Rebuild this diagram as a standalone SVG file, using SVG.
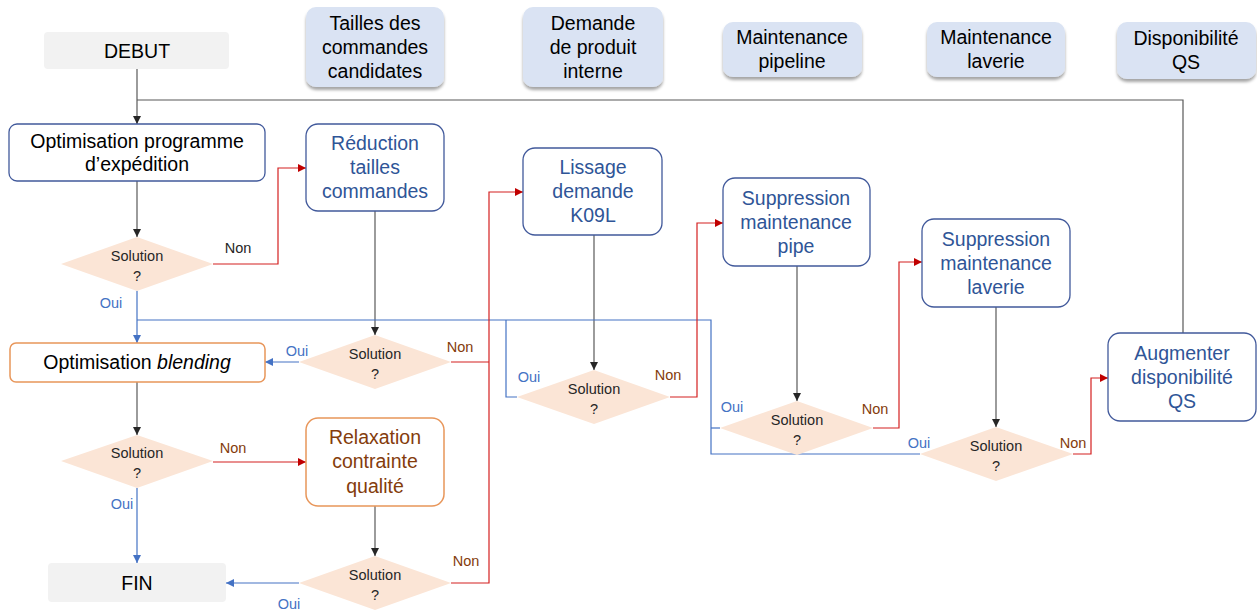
<svg xmlns="http://www.w3.org/2000/svg" width="1257" height="613" viewBox="0 0 1257 613">
<defs>
<style>
text{font-family:"Liberation Sans",Arial,sans-serif;text-anchor:middle}
.bt{font-size:19.5px}
.dt{font-size:14.5px;fill:#262626}
.lb{font-size:14.5px}
.oui{fill:#4472c4}
.non{fill:#843c0c}
.term{fill:#f2f2f2}
.ctx{fill:#dae3f3;filter:url(#sh)}
.pb{fill:#fff;stroke:#41599b;stroke-width:1.3}
.po{fill:#fff;stroke:#e8965a;stroke-width:1.5}
.dia{fill:#fbe5d6}
.blk{fill:#000}
.blu{fill:#2f5597}
.brn{fill:#843c0c}
.cg{fill:none;stroke:#595959;stroke-width:1.2}
.cb{fill:none;stroke:#4472c4;stroke-width:1.2}
.cr{fill:none;stroke:#d42020;stroke-width:1.2}
</style>
<filter id="sh" x="-10%" y="-10%" width="120%" height="130%">
<feDropShadow dx="0" dy="3" stdDeviation="1.5" flood-color="#000" flood-opacity="0.35"/>
</filter>
<marker id="ag" viewBox="0 0 10 10" refX="10" refY="5" markerWidth="8" markerHeight="8" markerUnits="userSpaceOnUse" orient="auto"><path d="M0,0L10,5L0,10z" fill="#262626"/></marker>
<marker id="ab" viewBox="0 0 10 10" refX="10" refY="5" markerWidth="8" markerHeight="8" markerUnits="userSpaceOnUse" orient="auto"><path d="M0,0L10,5L0,10z" fill="#4472c4"/></marker>
<marker id="ar" viewBox="0 0 10 10" refX="10" refY="5" markerWidth="8" markerHeight="8" markerUnits="userSpaceOnUse" orient="auto"><path d="M0,0L10,5L0,10z" fill="#c00000"/></marker>
</defs>
<rect width="1257" height="613" fill="#fff"/>

<g id="connectors">
<path class="cg" d="M137,69V124" marker-end="url(#ag)"/>
<path class="cg" d="M1183,333V100H137"/>
<path class="cg" d="M137,181V237" marker-end="url(#ag)"/>
<path class="cg" d="M375,211V335" marker-end="url(#ag)"/>
<path class="cg" d="M137,382V435" marker-end="url(#ag)"/>
<path class="cg" d="M375,506V556" marker-end="url(#ag)"/>
<path class="cg" d="M594,235V370" marker-end="url(#ag)"/>
<path class="cg" d="M797,266V401" marker-end="url(#ag)"/>
<path class="cg" d="M996,307V427" marker-end="url(#ag)"/>
<path class="cb" d="M137,291V343" marker-end="url(#ab)"/>
<path class="cb" d="M137,320H711V454H920"/>
<path class="cb" d="M720,428H711"/>
<path class="cb" d="M517,397H506V320"/>
<path class="cb" d="M299,362H265" marker-end="url(#ab)"/>
<path class="cb" d="M137,488V563" marker-end="url(#ab)"/>
<path class="cb" d="M299,583H226" marker-end="url(#ab)"/>
<path class="cr" d="M213,264H278V168H306" marker-end="url(#ar)"/>
<path class="cr" d="M213,462H306" marker-end="url(#ar)"/>
<path class="cr" d="M451,583H489V192H523" marker-end="url(#ar)"/>
<path class="cr" d="M451,362H489"/>
<path class="cr" d="M670,397H697V223H723" marker-end="url(#ar)"/>
<path class="cr" d="M873,428H899V262H922" marker-end="url(#ar)"/>
<path class="cr" d="M1073,454H1091V378H1108" marker-end="url(#ar)"/>
</g>

<g id="labels">
<text class="lb" x="238" y="253" fill="#262626">Non</text>
<text class="lb oui" x="111" y="308">Oui</text>
<text class="lb oui" x="297" y="356">Oui</text>
<text class="lb non" x="460" y="352">Non</text>
<text class="lb non" x="233" y="453">Non</text>
<text class="lb oui" x="122" y="509">Oui</text>
<text class="lb oui" x="289" y="609">Oui</text>
<text class="lb non" x="466" y="566">Non</text>
<text class="lb oui" x="529" y="382">Oui</text>
<text class="lb non" x="668" y="380">Non</text>
<text class="lb oui" x="732" y="412">Oui</text>
<text class="lb non" x="875" y="414">Non</text>
<text class="lb oui" x="919" y="448">Oui</text>
<text class="lb non" x="1073" y="448">Non</text>
</g>

<g id="ctx-tailles"><rect class="ctx" x="306" y="7" width="138" height="80" rx="10"/><text class="bt blk" x="375" y="30">Tailles des</text><text class="bt blk" x="375" y="54">commandes</text><text class="bt blk" x="375" y="78">candidates</text></g>
<g id="ctx-demande"><rect class="ctx" x="523" y="7" width="140" height="80" rx="10"/><text class="bt blk" x="593" y="30">Demande</text><text class="bt blk" x="593" y="54">de produit</text><text class="bt blk" x="593" y="78">interne</text></g>
<g id="ctx-pipeline"><rect class="ctx" x="723" y="22" width="139" height="55" rx="10"/><text class="bt blk" x="792" y="44">Maintenance</text><text class="bt blk" x="792" y="68">pipeline</text></g>
<g id="ctx-laverie"><rect class="ctx" x="927" y="22" width="138" height="55" rx="10"/><text class="bt blk" x="996" y="44">Maintenance</text><text class="bt blk" x="996" y="68">laverie</text></g>
<g id="ctx-qs"><rect class="ctx" x="1117" y="22" width="139" height="57" rx="10"/><text class="bt blk" x="1186" y="45">Disponibilité</text><text class="bt blk" x="1186" y="69">QS</text></g>

<g id="debut"><rect class="term" x="44" y="32" width="185" height="37" rx="4"/><text class="bt blk" x="137" y="58">DEBUT</text></g>
<g id="opt-prog"><rect class="pb" x="9" y="124" width="256" height="57" rx="8"/><text class="bt blk" x="137" y="148">Optimisation programme</text><text class="bt blk" x="137" y="171">d’expédition</text></g>
<g id="d1"><path class="dia" d="M137,237L213,264L137,291L61,264z"/><text class="dt" x="137" y="261">Solution</text><text class="dt" x="137" y="281">?</text></g>
<g id="reduction"><rect class="pb" x="306" y="124" width="138" height="87" rx="12"/><text class="bt blu" x="375" y="150">Réduction</text><text class="bt blu" x="375" y="174">tailles</text><text class="bt blu" x="375" y="198">commandes</text></g>
<g id="d2"><path class="dia" d="M375,335L451,362L375,389L299,362z"/><text class="dt" x="375" y="359">Solution</text><text class="dt" x="375" y="379">?</text></g>
<g id="opt-blend"><rect class="po" x="10" y="343" width="255" height="39" rx="6"/><text class="bt blk" x="137" y="369">Optimisation <tspan font-style="italic">blending</tspan></text></g>
<g id="d3"><path class="dia" d="M137,435L213,461L137,488L61,461z"/><text class="dt" x="137" y="458">Solution</text><text class="dt" x="137" y="478">?</text></g>
<g id="relaxation"><rect class="po" x="306" y="418" width="138" height="88" rx="12"/><text class="bt brn" x="375" y="444">Relaxation</text><text class="bt brn" x="375" y="468">contrainte</text><text class="bt brn" x="375" y="493">qualité</text></g>
<g id="d4"><path class="dia" d="M375,556L451,583L375,610L299,583z"/><text class="dt" x="375" y="580">Solution</text><text class="dt" x="375" y="600">?</text></g>
<g id="fin"><rect class="term" x="48" y="563" width="178" height="39" rx="4"/><text class="bt blk" x="137" y="590">FIN</text></g>
<g id="lissage"><rect class="pb" x="523" y="148" width="139" height="87" rx="12"/><text class="bt blu" x="593" y="174">Lissage</text><text class="bt blu" x="593" y="198">demande</text><text class="bt blu" x="593" y="222">K09L</text></g>
<g id="d5"><path class="dia" d="M594,370L670,397L594,424L517,397z"/><text class="dt" x="594" y="394">Solution</text><text class="dt" x="594" y="414">?</text></g>
<g id="supp-pipe"><rect class="pb" x="723" y="178" width="147" height="88" rx="12"/><text class="bt blu" x="796" y="205">Suppression</text><text class="bt blu" x="796" y="229">maintenance</text><text class="bt blu" x="796" y="253">pipe</text></g>
<g id="d6"><path class="dia" d="M797,401L873,428L797,455L720,428z"/><text class="dt" x="797" y="425">Solution</text><text class="dt" x="797" y="445">?</text></g>
<g id="supp-lav"><rect class="pb" x="922" y="219" width="148" height="88" rx="12"/><text class="bt blu" x="996" y="246">Suppression</text><text class="bt blu" x="996" y="270">maintenance</text><text class="bt blu" x="996" y="294">laverie</text></g>
<g id="d7"><path class="dia" d="M996,427L1073,454L996,481L920,454z"/><text class="dt" x="996" y="451">Solution</text><text class="dt" x="996" y="471">?</text></g>
<g id="augmenter"><rect class="pb" x="1108" y="333" width="148" height="88" rx="12"/><text class="bt blu" x="1182" y="360">Augmenter</text><text class="bt blu" x="1182" y="384">disponibilité</text><text class="bt blu" x="1182" y="408">QS</text></g>
</svg>
